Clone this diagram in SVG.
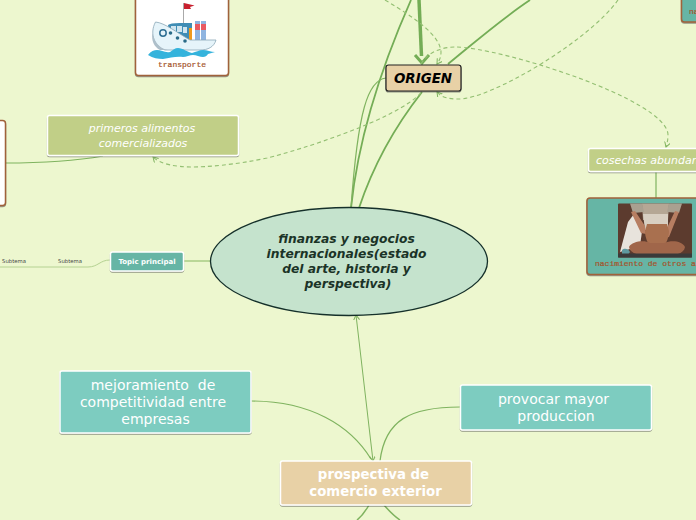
<svg xmlns="http://www.w3.org/2000/svg" width="696" height="520" viewBox="0 0 696 520">
<style>
text{font-family:"DejaVu Sans",Verdana,sans-serif;text-anchor:middle}
.n{stroke:#fff;stroke-width:1.5;filter:url(#s)}
.w{fill:#fff}
.c{fill:none;stroke:#7fb35f;stroke-width:1.2}
.c2{fill:none;stroke:#74ad56;stroke-width:1.8}
.d{fill:none;stroke:#93bf72;stroke-width:1.1;stroke-dasharray:4 3}
.m{font-family:"Liberation Mono",monospace;font-size:8px;fill:#a5532a;stroke:#a5532a;stroke-width:.2}
.b{stroke:#a0623a;stroke-width:1.5;filter:url(#s)}
</style>
<defs>
<filter id="s" x="-10%" y="-10%" width="120%" height="130%"><feDropShadow dx="0" dy="1" stdDeviation=".7" flood-color="#444" flood-opacity=".55"/></filter>
<marker id="a" markerWidth="8" markerHeight="8" refX="5" refY="3" orient="auto" markerUnits="userSpaceOnUse"><path d="M0 0L5 3L0 6" fill="none" stroke="#7fb35f" stroke-width="1"/></marker>
<marker id="as" markerWidth="8" markerHeight="8" refX="5" refY="3" orient="auto-start-reverse" markerUnits="userSpaceOnUse"><path d="M0 0L5 3L0 6" fill="none" stroke="#7fb35f" stroke-width="1"/></marker>
</defs>
<rect width="696" height="520" fill="#edf7cf"/>
<g id="connectors">
<path class="c2" d="M351 208C358 140 380 70 411 0"/>
<path class="c" d="M386 78C368 80 358 110 351 208"/>
<path class="c2" d="M359 208C375 160 400 120 422 92"/>
<path class="c2" d="M448 64C475 42 500 20 530 0"/>
<path d="M419 0L421.500 56" fill="none" stroke="#74ad56" stroke-width="3.500"/>
<path d="M415 55L422 63L429 55" fill="none" stroke="#74ad56" stroke-width="3"/>
<path class="d" d="M385 0C415 18 440 35 441 52C441 58 439 61 437 64" marker-end="url(#a)"/>
<path class="d" d="M618 0C590 40 490 100 458 99C448 99 441 97 437 92" marker-end="url(#a)"/>
<path class="d" d="M421 64C428 52 442 47 455 47C500 47 668 100 668 135C668 140 667 144 666 147" marker-end="url(#a)"/>
<path class="d" d="M421 93C395 120 300 150 267 158C235 165 205 167 193 167C175 167 160 164 153 157" marker-end="url(#a)"/>
<path class="c" d="M5 163C40 163 75 161 103 156"/>
<path class="c" d="M656 172V198"/>
<path d="M184 261H211" fill="none" stroke="#a9cc85" stroke-width="1.500"/>
<path d="M110 260C100 260 98 267 88 267H0" fill="none" stroke="#b5d292" stroke-width="1"/>
<path class="c" d="M251 401C310 401 350 425 371 459"/>
<path class="c" d="M460 407C410 407 385 420 380 461"/>
<path class="c" d="M356 315L373 461" marker-start="url(#as)" marker-end="url(#a)" style="stroke-width:1"/>
<path class="c" d="M369 505C365 512 362 516 357 520M384 505C390 512 394 516 400 520" style="stroke-width:1.500"/>
</g>
<g id="node-transporte">
<rect class="b" x="135.500" y="-10" width="93" height="85.500" rx="3" fill="#fff"/>
<g>
<path d="M183.500 3V24" stroke="#aaa" stroke-width="1" fill="none"/>
<path d="M184 3L194.500 5.500L190 7L191 9L184 9Z" fill="#c8202f"/>
<rect x="195" y="21" width="5" height="20" fill="#8fb4e0"/>
<rect x="201" y="21" width="5" height="20" fill="#8fb4e0"/>
<rect x="195" y="24" width="5" height="6" fill="#e85a62"/>
<rect x="201" y="24" width="5" height="6" fill="#e85a62"/>
<path d="M168 25Q170 23 180 23H192V41H170Z" fill="#3f8db5"/>
<rect x="171" y="26" width="5" height="6" fill="#cfe5ef"/><rect x="177" y="26" width="5" height="6" fill="#cfe5ef"/><rect x="183" y="27" width="4" height="6" fill="#cfe5ef"/>
<rect x="189" y="28" width="3" height="12" fill="#f09a1c"/>
<path d="M155.500 22C165 23 176 32 190 40H216C214 47 208 50 200 50H165C155 47 149 34 155.500 22Z" fill="#e6f4fa" stroke="#8aa7b6" stroke-width=".8"/>
<path d="M152.500 33C154 42 160 49 168 50H160C154 47 151 40 152.500 33Z" fill="#aebfca"/>
<circle cx="163" cy="33" r="3.200" fill="none" stroke="#2f6f93" stroke-width="1.500"/><circle cx="170.500" cy="33" r="1.800" fill="#2a6b88"/><circle cx="177.500" cy="38" r="1.800" fill="#2a6b88"/><circle cx="185" cy="41" r="1.800" fill="#2a6b88"/>
<path d="M148 55C151 51 154 50 157 50C161 50 165 53 170 52C173 50 175 48 178 48C183 48 187 52 192 53C196 52 199 50 203 50C207 50 211 52 215 52L208 54C207 56 205 57 203 57C200 57 196 55 193 55C190 55 186 57 183 57C176 56 170 58 163 59C158 59 153 58 148 55Z" fill="#35b3dc"/>
</g>
<text class="m" x="182" y="67">transporte</text>
</g>
<g id="node-blanco"><rect class="b" x="-10" y="120.500" width="15.500" height="85" rx="3" fill="#fff"/></g>
<g id="node-primeros">
<rect class="n" x="47.500" y="115.500" width="191" height="40" rx="2" fill="#c1cf87"/>
<text class="w" font-size="11" font-style="italic" x="142" y="132">primeros alimentos</text>
<text class="w" font-size="11" font-style="italic" x="143" y="147">comercializados</text>
</g>
<g id="node-central">
<ellipse cx="349" cy="261.500" rx="138.500" ry="54" fill="#c5e3cd" stroke="#15302a" stroke-width="1.300"/>
<g font-size="12.300" font-weight="bold" font-style="italic" fill="#1b3327">
<text x="346.500" y="243">finanzas y negocios</text>
<text x="346.500" y="258">internacionales(estado</text>
<text x="346.500" y="273">del arte, historia y</text>
<text x="348" y="288">perspectiva)</text>
</g>
</g>
<g id="node-topic">
<rect class="n" x="110.500" y="252" width="73" height="19" rx="2" fill="#66b5a5"/>
<text class="w" font-size="7" font-weight="bold" x="147" y="264">Topic principal</text>
</g>
<g id="node-subtema1"><text font-size="5.300" fill="#444" x="14" y="263">Subtema</text></g>
<g id="node-subtema2"><text font-size="5.300" fill="#444" x="70" y="263">Subtema</text></g>
<g id="node-origen">
<rect x="386" y="65" width="75" height="26" rx="2.500" fill="#e8d1a6" stroke="#222" stroke-width="1.200" filter="url(#s)"/>
<text font-size="13.400" font-weight="bold" font-style="italic" fill="#000" x="423" y="83">ORIGEN</text>
</g>
<g id="node-cosechas">
<rect class="n" x="588.500" y="148.500" width="120" height="23" rx="2" fill="#c1cf87"/>
<text class="w" font-size="11" font-style="italic" x="596" y="164" style="text-anchor:start">cosechas abundan</text>
</g>
<g id="node-nacimiento">
<rect class="b" x="587" y="198" width="120" height="76.500" rx="3" fill="#66b5a5"/>
<rect x="618" y="203.500" width="74" height="54" rx="1" fill="#5c3b2e"/>
<path d="M642 203.500H669L668 220L643 220Z" fill="#b5a795"/>
<path d="M630 203.500H642L644 212L633 213ZM669 203.500H682L679 213L667 212Z" fill="#a9a090"/>
<path d="M620 252L628 222L634 214L643 224L640 246Z" fill="#e8e3dc"/>
<path d="M643 214H668V230H645Z" fill="#d8cfc2"/>
<path d="M631 212L635 211L645 226L646 234L641 233ZM679 212L675 211L667 228L664 238L669 237Z" fill="#b77e62"/>
<path d="M647 224H667L669 231C669 238 666 243 664 247H650C648 243 645 238 645 231Z" fill="#a9704f"/>
<path d="M629 247C632 241 645 240 650 243H664C672 240 682 241 685 247C684 254 675 256 657 256C640 256 630 254 629 247Z" fill="#a0664a"/>
<path d="M622 250C624 248 628 248 630 252L628 255H622Z" fill="#5f9aa0"/>
<rect x="618" y="253.500" width="74" height="4" fill="#3a3a3a"/>
<text class="m" x="595" y="266" style="text-anchor:start">nacimiento de otros a</text>
</g>
<g id="node-arriba">
<rect class="b" x="681.500" y="-10" width="30" height="32" rx="3" fill="#66b5a5"/>
<text class="m" x="689" y="14" style="text-anchor:start">na</text>
</g>
<g id="node-mejoramiento">
<rect class="n" x="60" y="371" width="191" height="62" rx="2" fill="#7dccc0"/>
<g class="w" font-size="14">
<text x="153" y="390" xml:space="preserve">mejoramiento  de</text>
<text x="153" y="407">competitividad entre</text>
<text x="155.500" y="424">empresas</text>
</g>
</g>
<g id="node-provocar">
<rect class="n" x="460.500" y="385" width="191" height="45" rx="2" fill="#7dccc0"/>
<text class="w" font-size="14" x="553.500" y="404">provocar mayor</text>
<text class="w" font-size="14" x="556" y="421">produccion</text>
</g>
<g id="node-prospectiva">
<rect class="n" x="280.500" y="461" width="191" height="44" rx="2" fill="#e8d1a6"/>
<text class="w" font-size="13.300" font-weight="bold" x="373.500" y="479">prospectiva de</text>
<text class="w" font-size="13.300" font-weight="bold" x="375.500" y="496">comercio exterior</text>
</g>
</svg>
